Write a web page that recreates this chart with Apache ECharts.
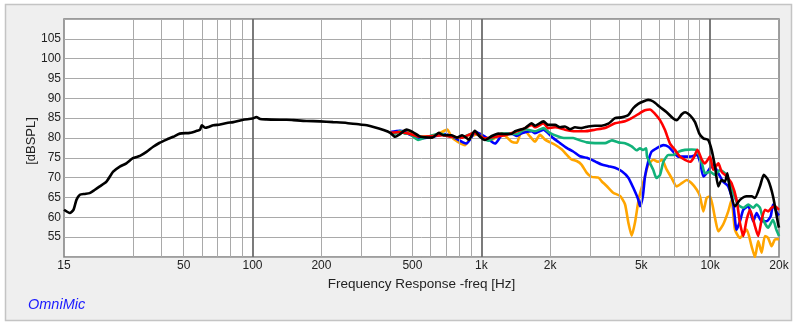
<!DOCTYPE html>
<html>
<head>
<meta charset="utf-8">
<script src="https://cdn.jsdelivr.net/npm/echarts@6/dist/echarts.min.js"></script>
<style>
html,body{margin:0;padding:0;background:#fff;}
#c{width:800px;height:327px;}
</style>
</head>
<body>
<div id="c"></div>
<script>
// ---- data ----
const xTickLabels = [15, 50, 100, 200, 500, 1000, 2000, 5000, 10000, 20000];
const gridFreqs = [30, 40, 50, 60, 70, 80, 90, 100, 200, 300, 400, 500, 600, 700, 800, 900, 1000,
  2000, 3000, 4000, 5000, 6000, 7000, 8000, 9000, 10000];
const decadeFreqs = [100, 1000, 10000];

const blackFreq = [15,15.9,16.5,17.0,17.6,18.5,19.4,20.4,21.5,23.0,24.6,26.3,28.1,30,32.2,34.4,36.8,39.3,42.1,45,48.1,53.2,57,59,60,62,64.3,67.4,72.1,77.2,82.4,91,100,104,108,115,132,141,151,172,197,225,258,295,316,338,374,400,420,441,471,502,543,611,652,682,740,783,825,882,937,987,1038,1112,1185,1269,1360,1404,1553,1660,1716,1870,1960,2100,2208,2321,2440,2566,2740,2930,3140,3355,3590,3839,4100,4390,4610,4850,5100,5360,5640,6040,6460,6900,7140,7520,7770,8170,8590,8970,9340,9810,10150,10500,10860,11230,11610,11890,12210,12840,13500,14440,15180,15700,16510,17170,17930,18830,19790,20000];
const blackDb = [61.9,61.1,61.9,64.4,65.7,65.9,66.1,66.9,67.8,69.0,71.5,72.8,73.6,74.9,75.5,76.5,77.8,78.8,79.6,80.3,81.1,81.3,81.8,82.1,83.2,82.6,82.8,83.2,83.4,83.8,84.0,84.6,84.9,85.3,84.8,84.7,84.6,84.6,84.5,84.3,84.2,84.0,83.8,83.4,83.2,82.8,82.0,81.3,80.3,81.0,82.1,81.5,80.3,80.1,81.3,80.7,80.7,80.1,80.7,79.6,81.8,80.3,79.5,80.5,81.1,81.0,81.1,81.7,82.5,83.7,83.1,84.2,83.3,83.3,82.7,82.9,82.2,82.7,82.5,82.9,83.1,83.1,83.6,85.0,85.2,85.8,87.5,88.6,89.2,89.6,89.2,87.8,86.5,84.9,84.5,86.0,86.5,85.7,84.0,81.1,79.9,79.5,77.0,72.8,67.8,69.4,69.0,71.1,67.0,62.8,64.4,65.3,65.3,64.9,67.8,70.7,69.4,65.3,58.6,57.4];

const redFreq = [400,441,488,540,611,675,740,825,930,1038,1148,1269,1404,1553,1660,1716,1870,1960,2100,2321,2566,2839,3140,3472,3839,4246,4540,4938,5192,5460,5742,6039,6350,6678,7022,7385,7766,8167,8450,8800,9210,9498,9987,10330,10860,11230,11810,12410,13050,13500,13960,14440,14930,15700,16230,16790,17360,17930,18560,19200,20000];
const redDb = [81.3,81.5,81.0,80.3,80.5,80.7,80.3,80.1,81.3,79.9,80.3,80.7,81.5,82.5,83.3,82.7,83.7,82.5,82.7,82.1,81.7,81.7,82.1,82.5,83.7,84.2,85.0,86.3,87.0,87.2,86.1,84.5,82.0,78.6,77.0,75.3,74.5,74.0,74.9,77.0,74.5,73.6,75.3,72.0,73.6,71.5,70.3,68.6,64.4,58.6,55.3,59.4,61.9,57.8,55.3,59.4,61.9,61.5,62.4,62.8,61.9];

const greenFreq = [400,420,441,464,488,530,567,612,660,720,783,855,930,1000,1070,1150,1230,1334,1430,1553,1716,1870,2000,2170,2321,2520,2698,2890,3140,3472,3720,3970,4246,4540,4770,4938,5080,5250,5300,5640,5830,6039,6250,6570,6910,7260,7766,8300,8730,9210,9498,9987,10500,11043,11613,12000,12630,13260,13960,14680,15440,15960,16510,17070,17930,18830,19470,20000];
const greenDb = [81.3,81.1,81.8,81.1,81.0,79.5,80.1,80.7,81.1,80.5,80.1,80.5,81.3,80.3,79.3,80.3,81.1,81.1,81.0,82.2,81.7,82.5,81.2,80.4,80.0,80.0,79.4,78.9,78.7,78.7,79.4,78.9,78.7,77.9,76.9,77.4,77.0,77.4,75.3,72.0,69.9,70.7,74.0,75.7,75.7,76.5,77.0,77.1,77.0,73.6,71.1,71.5,70.7,72.0,71.1,69.4,66.1,63.2,62.4,63.2,62.4,63.2,62.4,59.4,57.4,59.4,56.9,55.3];

const blueFreq = [400,441,464,488,543,612,694,750,860,945,1040,1148,1230,1360,1430,1500,1660,1716,1870,1960,2060,2208,2360,2520,2698,2890,3140,3355,3590,3839,4110,4390,4610,4850,4938,5080,5192,5360,5540,5830,6250,6570,6910,7260,7640,8167,8730,9031,9340,9660,9987,10330,10860,11400,12000,12630,13050,13500,13960,14680,15440,15960,16790,17640,18400,18830,19600,20000];
const blueDb = [81.5,81.8,81.5,80.8,79.9,80.3,81.0,80.3,78.6,81.5,80.3,78.6,80.7,81.1,80.5,81.2,81.7,81.2,82.1,81.2,80.0,78.7,77.5,76.6,75.4,75.0,74.1,73.3,72.9,72.5,71.6,70.0,67.5,64.5,62.8,65.3,70.3,74.0,76.5,77.4,78.2,77.8,76.5,75.3,75.3,75.3,75.7,74.0,70.3,71.1,72.4,73.2,71.1,69.0,67.8,63.2,56.9,59.0,61.9,62.8,59.0,61.1,59.0,59.0,60.3,63.2,61.1,60.5];

const orangeFreq = [441,464,502,543,611,652,710,740,790,850,900,987,1038,1112,1230,1360,1430,1476,1553,1632,1716,1804,1899,2000,2100,2250,2360,2480,2610,2740,2890,3030,3250,3355,3530,3770,4037,4246,4390,4540,4695,4890,5192,5360,5640,5930,6160,6460,6790,7140,7520,7900,8300,8730,9031,9340,9660,9987,10500,10860,11400,12000,12410,12840,13500,14440,15180,15700,16230,16790,17360,17930,18560,19200,20000];
const orangeDb = [81.5,81.8,81.0,80.3,80.5,81.1,82.1,80.3,79.0,78.2,80.3,81.1,79.9,79.6,81.1,79.0,78.8,80.8,81.7,80.4,79.1,80.8,79.6,78.9,78.3,77.1,75.8,74.6,74.2,73.3,71.2,70.2,70.0,69.1,67.9,66.2,65.4,63.3,58.7,55.4,58.7,65.0,70.3,73.2,74.5,74.0,74.5,72.0,69.9,67.8,68.6,69.4,68.6,67.0,65.3,61.5,64.9,65.3,59.9,56.5,58.2,61.5,64.4,56.9,54.8,56.9,52.7,50.0,54.0,51.1,55.3,54.8,52.7,54.4,54.5];

function zip(fs, ds) { return fs.map((f, i) => [f, ds[i]]); }

const chart = echarts.init(document.getElementById('c'), null, {renderer: 'canvas'});
const gridLines = gridFreqs.map(f => ({
  xAxis: f,
  lineStyle: decadeFreqs.indexOf(f) >= 0
    ? {color: '#6c6c6c', width: 1.8, type: 'solid'}
    : {color: '#a9a9a9', width: 1, type: 'solid'}
}));

function curve(name, fs, ds, color, z) {
  return {
    name: name, type: 'line', data: zip(fs, ds), showSymbol: false, symbol: 'none',
    lineStyle: {color: color, width: 2.6}, z: z, silent: true, smooth: 0.2
  };
}

chart.setOption({
  animation: false,
  backgroundColor: '#ffffff',
  graphic: [{
    type: 'rect', z: -10, silent: true,
    shape: {x: 5.5, y: 4.5, width: 786, height: 316},
    style: {fill: '#efefef', stroke: '#c4c4c4', lineWidth: 1.5}
  }, {
    type: 'text', left: 28, top: 297, silent: true,
    style: {text: 'OmniMic', fill: '#1a1aff', font: 'italic 14.5px "Liberation Sans", Arial, sans-serif'}
  }, {
    type: 'text', x: 31, y: 141, rotation: Math.PI / 2, silent: true,
    style: {text: '[dBSPL]', fill: '#222', align: 'center', verticalAlign: 'middle',
      font: '13px "Liberation Sans", Arial, sans-serif'}
  }],
  grid: {
    left: 64, top: 19, right: 21, bottom: 70, show: true,
    backgroundColor: '#ffffff', borderColor: '#808080', borderWidth: 1.5
  },
  xAxis: {
    type: 'log', logBase: 10, min: 15, max: 20000,
    name: 'Frequency Response -freq [Hz]', nameLocation: 'middle', nameGap: 20,
    nameTextStyle: {color: '#222', fontSize: 13.5, fontFamily: '"Liberation Sans", Arial, sans-serif'},
    axisLine: {show: false}, axisTick: {show: false}, splitLine: {show: false},
    axisLabel: {
      customValues: xTickLabels, margin: 3, color: '#222', fontSize: 12,
      fontFamily: '"Liberation Sans", Arial, sans-serif',
      formatter: v => v >= 1000 ? (Math.round(v / 1000) + 'k') : String(Math.round(v))
    }
  },
  yAxis: {
    type: 'value', min: 50, max: 110, interval: 5,
    axisLine: {show: false}, axisTick: {show: false},
    splitLine: {show: true, lineStyle: {color: '#a9a9a9', width: 1}},
    axisLabel: {
      color: '#222', fontSize: 12, margin: 3,
      fontFamily: '"Liberation Sans", Arial, sans-serif',
      formatter: v => (v === 50 || v === 110) ? '' : String(v)
    }
  },
  series: [
    {
      type: 'line', data: [], z: 1, silent: true,
      markLine: {silent: true, symbol: ['none', 'none'], label: {show: false}, animation: false, data: gridLines}
    },
    curve('orange', orangeFreq, orangeDb, '#ffa500', 3),
    curve('blue', blueFreq, blueDb, '#0000ff', 4),
    curve('green', greenFreq, greenDb, '#12b27a', 5),
    curve('red', redFreq, redDb, '#ff0000', 6),
    curve('black', blackFreq, blackDb, '#000000', 7)
  ]
});
</script>
</body>
</html>
